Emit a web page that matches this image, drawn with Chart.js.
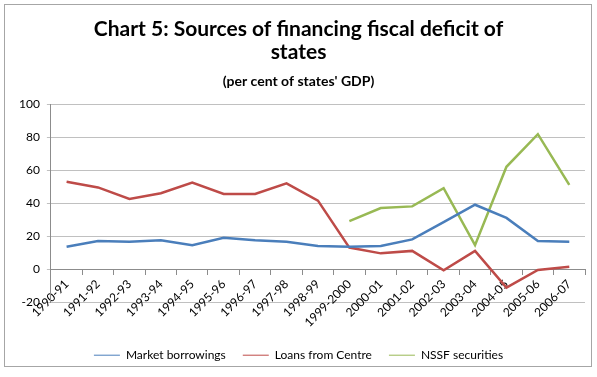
<!DOCTYPE html>
<html>
<head>
<meta charset="utf-8">
<script src="https://cdn.jsdelivr.net/npm/chart.js@4"></script>
<style>
  html, body { margin: 0; padding: 0; background: #fff; }
  #frame { position: absolute; left: 4px; top: 4px; width: 586px; height: 361px; border: 1px solid #a6a6a6; }
  #wrap { position: absolute; left: 0; top: 0; width: 597px; height: 377px; }
</style>
</head>
<body>
<div id="frame"></div>
<div id="wrap"><canvas id="chart"></canvas></div>
<script>
// Categories (fiscal years)
const years = ["1990-91", "1991-92", "1992-93", "1993-94", "1994-95", "1995-96", "1996-97", "1997-98", "1998-99",
  "1999-2000", "2000-01", "2001-02", "2002-03", "2003-04", "2004-05", "2005-06", "2006-07"];

// Series (per cent of states' GDP)
const marketBorrowings = [13.5, 17, 16.5, 17.5, 14.5, 19, 17.5, 16.5, 14, 13.5, 14, 18, 28.5, 39, 31, 17, 16.5];
const loansFromCentre = [53, 49.5, 42.5, 46, 52.5, 45.5, 45.5, 52, 41.5, 13, 9.5, 11, -0.8, 11, -11.3, -0.6, 1.4];
const nssfSecurities = [null, null, null, null, null, null, null, null, null, 29, 37, 38, 49, 14.5, 62, 81.8, 51];

const yTicks = [-20, 0, 20, 40, 60, 80, 100];

const fontFamily = "Lato, 'Open Sans', sans-serif";

// keep the legend box a fixed height so the plot ends where the reference does
const legendHeight = {
    id: "legendHeight",
    beforeInit(chart) {
        const fit = chart.legend.fit;
        chart.legend.fit = function () {
            fit.bind(chart.legend)();
            this.height = 75;
        };
    }
};

const ctx = document.getElementById("chart").getContext("2d");

new Chart(ctx, {
    type: "line",
    data: {
        labels: years,
        datasets: [
            { label: "Market borrowings", data: marketBorrowings, borderColor: "#4a7ebb", backgroundColor: "#4a7ebb" },
            { label: "Loans from Centre", data: loansFromCentre, borderColor: "#be4b48", backgroundColor: "#be4b48" },
            { label: "NSSF securities", data: nssfSecurities, borderColor: "#98b954", backgroundColor: "#98b954" }
        ]
    },
    options: {
        responsive: true,
        maintainAspectRatio: false,
        animation: false,
        elements: {
            line: { borderWidth: 2.5, tension: 0 },
            point: { radius: 0 }
        },
        layout: { padding: { left: 12, right: 12, top: 12, bottom: 0 } },
        plugins: {
            title: {
                display: true,
                text: ["Chart 5: Sources of financing fiscal deficit of", "states"],
                color: "#000",
                font: { family: fontFamily, size: 21, weight: "bold", lineHeight: 1.08 },
                padding: { top: 6, bottom: 4 }
            },
            subtitle: {
                display: true,
                text: "(per cent of states' GDP)",
                color: "#000",
                font: { family: fontFamily, size: 14, weight: "bold" },
                padding: { top: 6, bottom: 14 }
            },
            legend: {
                position: "bottom",
                title: { display: true, text: "", font: { size: 1 }, padding: { top: 29, bottom: 0 } },
                labels: {
                    usePointStyle: true,
                    pointStyle: "line",
                    pointStyleWidth: 26,
                    color: "#000",
                    font: { family: fontFamily, size: 12 },
                    padding: 17
                }
            },
            tooltip: { enabled: false }
        },
        scales: {
            x: {
                position: { y: 0 },
                offset: true,
                grid: { display: true, drawOnChartArea: false, drawTicks: true, tickLength: 5, color: "#8c8c8c", offset: true },
                border: { display: true, color: "#8c8c8c" },
                ticks: {
                    color: "#000",
                    font: { family: fontFamily, size: 12 },
                    maxRotation: 45,
                    minRotation: 45,
                    autoSkip: false
                }
            },
            y: {
                min: -20,
                max: 100,
                afterBuildTicks: axis => { axis.ticks = yTicks.map(v => ({ value: v })); },
                grid: { color: "#c0c0c0", drawTicks: true, tickLength: 4 },
                border: { display: true, color: "#8c8c8c" },
                ticks: {
                    color: "#000",
                    padding: 7,
                    font: { family: fontFamily, size: 12 }
                }
            }
        }
    },
    plugins: [legendHeight]
});
</script>
</body>
</html>
